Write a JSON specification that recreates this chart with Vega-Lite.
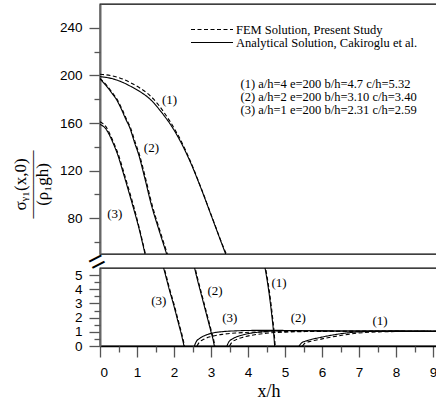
{
  "$schema": "https://vega.github.io/schema/vega-lite/v6.json",
  "padding": {"left": 10, "top": 3, "right": 0, "bottom": 0},
  "background": "white",
  "config": {
    "view": {"stroke": "black", "strokeWidth": 1.3},
    "font": "Liberation Serif",
    "axis": {"grid": false, "labelFont": "Liberation Sans", "labelFontSize": 13.5, "labelColor": "black", "labelOverlap": false, "domainColor": "#666", "domainWidth": 2, "tickColor": "#555", "tickWidth": 1.3, "titleFont": "Liberation Serif", "titleFontWeight": "normal", "titleColor": "black"}
  },
  "datasets": {
    "upper": [
      {"series":"1A","method":"Analytical Solution, Cakiroglu et al.","x":0,"y":199},{"series":"1A","method":"Analytical Solution, Cakiroglu et al.","x":0.3,"y":197.5},{"series":"1A","method":"Analytical Solution, Cakiroglu et al.","x":0.55,"y":195},{"series":"1A","method":"Analytical Solution, Cakiroglu et al.","x":0.85,"y":190.5},{"series":"1A","method":"Analytical Solution, Cakiroglu et al.","x":1.1,"y":186},{"series":"1A","method":"Analytical Solution, Cakiroglu et al.","x":1.3,"y":181.5},{"series":"1A","method":"Analytical Solution, Cakiroglu et al.","x":1.45,"y":177},{"series":"1A","method":"Analytical Solution, Cakiroglu et al.","x":1.6,"y":171.5},{"series":"1A","method":"Analytical Solution, Cakiroglu et al.","x":1.75,"y":165.5},{"series":"1A","method":"Analytical Solution, Cakiroglu et al.","x":1.9,"y":159},{"series":"1A","method":"Analytical Solution, Cakiroglu et al.","x":2.05,"y":151.5},{"series":"1A","method":"Analytical Solution, Cakiroglu et al.","x":2.2,"y":143},{"series":"1A","method":"Analytical Solution, Cakiroglu et al.","x":2.35,"y":133.5},{"series":"1A","method":"Analytical Solution, Cakiroglu et al.","x":2.5,"y":123},{"series":"1A","method":"Analytical Solution, Cakiroglu et al.","x":2.65,"y":111.5},{"series":"1A","method":"Analytical Solution, Cakiroglu et al.","x":2.8,"y":99.5},{"series":"1A","method":"Analytical Solution, Cakiroglu et al.","x":2.95,"y":87},{"series":"1A","method":"Analytical Solution, Cakiroglu et al.","x":3.1,"y":74.5},{"series":"1A","method":"Analytical Solution, Cakiroglu et al.","x":3.25,"y":62},{"series":"1A","method":"Analytical Solution, Cakiroglu et al.","x":3.42,"y":48},
      {"series":"1F","method":"FEM Solution, Present Study","x":0,"y":201},{"series":"1F","method":"FEM Solution, Present Study","x":0.3,"y":199.8},{"series":"1F","method":"FEM Solution, Present Study","x":0.55,"y":197.7},{"series":"1F","method":"FEM Solution, Present Study","x":0.85,"y":193.5},{"series":"1F","method":"FEM Solution, Present Study","x":1.1,"y":189},{"series":"1F","method":"FEM Solution, Present Study","x":1.3,"y":184.5},{"series":"1F","method":"FEM Solution, Present Study","x":1.45,"y":180},{"series":"1F","method":"FEM Solution, Present Study","x":1.6,"y":174.5},{"series":"1F","method":"FEM Solution, Present Study","x":1.75,"y":168},{"series":"1F","method":"FEM Solution, Present Study","x":1.9,"y":161},{"series":"1F","method":"FEM Solution, Present Study","x":2.05,"y":153},{"series":"1F","method":"FEM Solution, Present Study","x":2.2,"y":144.5},{"series":"1F","method":"FEM Solution, Present Study","x":2.35,"y":134.5},{"series":"1F","method":"FEM Solution, Present Study","x":2.5,"y":123.8},{"series":"1F","method":"FEM Solution, Present Study","x":2.65,"y":112},{"series":"1F","method":"FEM Solution, Present Study","x":2.8,"y":100},{"series":"1F","method":"FEM Solution, Present Study","x":2.95,"y":87.5},{"series":"1F","method":"FEM Solution, Present Study","x":3.1,"y":75},{"series":"1F","method":"FEM Solution, Present Study","x":3.25,"y":62.5},{"series":"1F","method":"FEM Solution, Present Study","x":3.44,"y":48},
      {"series":"2A","method":"Analytical Solution, Cakiroglu et al.","x":0,"y":197},{"series":"2A","method":"Analytical Solution, Cakiroglu et al.","x":0.15,"y":192},{"series":"2A","method":"Analytical Solution, Cakiroglu et al.","x":0.31,"y":185.6},{"series":"2A","method":"Analytical Solution, Cakiroglu et al.","x":0.45,"y":179.5},{"series":"2A","method":"Analytical Solution, Cakiroglu et al.","x":0.58,"y":171.5},{"series":"2A","method":"Analytical Solution, Cakiroglu et al.","x":0.7,"y":163},{"series":"2A","method":"Analytical Solution, Cakiroglu et al.","x":0.8,"y":156.5},{"series":"2A","method":"Analytical Solution, Cakiroglu et al.","x":0.94,"y":143},{"series":"2A","method":"Analytical Solution, Cakiroglu et al.","x":1.04,"y":134},{"series":"2A","method":"Analytical Solution, Cakiroglu et al.","x":1.2,"y":115},{"series":"2A","method":"Analytical Solution, Cakiroglu et al.","x":1.39,"y":91},{"series":"2A","method":"Analytical Solution, Cakiroglu et al.","x":1.6,"y":69.5},{"series":"2A","method":"Analytical Solution, Cakiroglu et al.","x":1.8,"y":50},{"series":"2A","method":"Analytical Solution, Cakiroglu et al.","x":1.83,"y":47},
      {"series":"2F","method":"FEM Solution, Present Study","x":0,"y":197.5},{"series":"2F","method":"FEM Solution, Present Study","x":0.17,"y":192},{"series":"2F","method":"FEM Solution, Present Study","x":0.33,"y":185.6},{"series":"2F","method":"FEM Solution, Present Study","x":0.47,"y":179.5},{"series":"2F","method":"FEM Solution, Present Study","x":0.6,"y":171.5},{"series":"2F","method":"FEM Solution, Present Study","x":0.72,"y":163},{"series":"2F","method":"FEM Solution, Present Study","x":0.82,"y":156.5},{"series":"2F","method":"FEM Solution, Present Study","x":0.96,"y":143},{"series":"2F","method":"FEM Solution, Present Study","x":1.06,"y":134},{"series":"2F","method":"FEM Solution, Present Study","x":1.22,"y":115},{"series":"2F","method":"FEM Solution, Present Study","x":1.41,"y":91},{"series":"2F","method":"FEM Solution, Present Study","x":1.62,"y":69.5},{"series":"2F","method":"FEM Solution, Present Study","x":1.82,"y":50},{"series":"2F","method":"FEM Solution, Present Study","x":1.85,"y":47},
      {"series":"3A","method":"Analytical Solution, Cakiroglu et al.","x":0,"y":159},{"series":"3A","method":"Analytical Solution, Cakiroglu et al.","x":0.08,"y":157.5},{"series":"3A","method":"Analytical Solution, Cakiroglu et al.","x":0.16,"y":155},{"series":"3A","method":"Analytical Solution, Cakiroglu et al.","x":0.22,"y":152},{"series":"3A","method":"Analytical Solution, Cakiroglu et al.","x":0.35,"y":143.5},{"series":"3A","method":"Analytical Solution, Cakiroglu et al.","x":0.49,"y":132.3},{"series":"3A","method":"Analytical Solution, Cakiroglu et al.","x":0.62,"y":119},{"series":"3A","method":"Analytical Solution, Cakiroglu et al.","x":0.76,"y":104.2},{"series":"3A","method":"Analytical Solution, Cakiroglu et al.","x":0.9,"y":89},{"series":"3A","method":"Analytical Solution, Cakiroglu et al.","x":1.05,"y":72},{"series":"3A","method":"Analytical Solution, Cakiroglu et al.","x":1.21,"y":51},{"series":"3A","method":"Analytical Solution, Cakiroglu et al.","x":1.24,"y":47},
      {"series":"3F","method":"FEM Solution, Present Study","x":0,"y":161},{"series":"3F","method":"FEM Solution, Present Study","x":0.08,"y":159.5},{"series":"3F","method":"FEM Solution, Present Study","x":0.16,"y":157},{"series":"3F","method":"FEM Solution, Present Study","x":0.24,"y":152.5},{"series":"3F","method":"FEM Solution, Present Study","x":0.37,"y":143.5},{"series":"3F","method":"FEM Solution, Present Study","x":0.51,"y":132.3},{"series":"3F","method":"FEM Solution, Present Study","x":0.64,"y":119},{"series":"3F","method":"FEM Solution, Present Study","x":0.78,"y":104.2},{"series":"3F","method":"FEM Solution, Present Study","x":0.92,"y":89},{"series":"3F","method":"FEM Solution, Present Study","x":1.06,"y":72},{"series":"3F","method":"FEM Solution, Present Study","x":1.22,"y":51},{"series":"3F","method":"FEM Solution, Present Study","x":1.25,"y":47}
    ],
    "lower": [
      {"series":"1Ad","method":"Analytical Solution, Cakiroglu et al.","x":4.44,"y":5.8},{"series":"1Ad","method":"Analytical Solution, Cakiroglu et al.","x":4.5,"y":4.9},{"series":"1Ad","method":"Analytical Solution, Cakiroglu et al.","x":4.56,"y":3.9},{"series":"1Ad","method":"Analytical Solution, Cakiroglu et al.","x":4.61,"y":2.9},{"series":"1Ad","method":"Analytical Solution, Cakiroglu et al.","x":4.65,"y":2.0},{"series":"1Ad","method":"Analytical Solution, Cakiroglu et al.","x":4.69,"y":1.0},{"series":"1Ad","method":"Analytical Solution, Cakiroglu et al.","x":4.72,"y":0},
      {"series":"1Fd","method":"FEM Solution, Present Study","x":4.455,"y":5.8},{"series":"1Fd","method":"FEM Solution, Present Study","x":4.515,"y":4.9},{"series":"1Fd","method":"FEM Solution, Present Study","x":4.575,"y":3.9},{"series":"1Fd","method":"FEM Solution, Present Study","x":4.625,"y":2.9},{"series":"1Fd","method":"FEM Solution, Present Study","x":4.665,"y":2.0},{"series":"1Fd","method":"FEM Solution, Present Study","x":4.705,"y":1.0},{"series":"1Fd","method":"FEM Solution, Present Study","x":4.735,"y":0},
      {"series":"2Ad","method":"Analytical Solution, Cakiroglu et al.","x":2.53,"y":5.8},{"series":"2Ad","method":"Analytical Solution, Cakiroglu et al.","x":2.62,"y":4.8},{"series":"2Ad","method":"Analytical Solution, Cakiroglu et al.","x":2.72,"y":3.8},{"series":"2Ad","method":"Analytical Solution, Cakiroglu et al.","x":2.82,"y":2.8},{"series":"2Ad","method":"Analytical Solution, Cakiroglu et al.","x":2.92,"y":1.8},{"series":"2Ad","method":"Analytical Solution, Cakiroglu et al.","x":3.0,"y":1.0},{"series":"2Ad","method":"Analytical Solution, Cakiroglu et al.","x":3.06,"y":0.4},{"series":"2Ad","method":"Analytical Solution, Cakiroglu et al.","x":3.09,"y":0},
      {"series":"2Fd","method":"FEM Solution, Present Study","x":2.545,"y":5.8},{"series":"2Fd","method":"FEM Solution, Present Study","x":2.635,"y":4.8},{"series":"2Fd","method":"FEM Solution, Present Study","x":2.735,"y":3.8},{"series":"2Fd","method":"FEM Solution, Present Study","x":2.835,"y":2.8},{"series":"2Fd","method":"FEM Solution, Present Study","x":2.935,"y":1.8},{"series":"2Fd","method":"FEM Solution, Present Study","x":3.015,"y":1.0},{"series":"2Fd","method":"FEM Solution, Present Study","x":3.075,"y":0.4},{"series":"2Fd","method":"FEM Solution, Present Study","x":3.105,"y":0},
      {"series":"3Ad","method":"Analytical Solution, Cakiroglu et al.","x":1.69,"y":5.8},{"series":"3Ad","method":"Analytical Solution, Cakiroglu et al.","x":1.78,"y":4.9},{"series":"3Ad","method":"Analytical Solution, Cakiroglu et al.","x":1.88,"y":3.9},{"series":"3Ad","method":"Analytical Solution, Cakiroglu et al.","x":1.98,"y":3.0},{"series":"3Ad","method":"Analytical Solution, Cakiroglu et al.","x":2.06,"y":2.2},{"series":"3Ad","method":"Analytical Solution, Cakiroglu et al.","x":2.14,"y":1.4},{"series":"3Ad","method":"Analytical Solution, Cakiroglu et al.","x":2.21,"y":0.7},{"series":"3Ad","method":"Analytical Solution, Cakiroglu et al.","x":2.27,"y":0},
      {"series":"3Fd","method":"FEM Solution, Present Study","x":1.705,"y":5.8},{"series":"3Fd","method":"FEM Solution, Present Study","x":1.795,"y":4.9},{"series":"3Fd","method":"FEM Solution, Present Study","x":1.895,"y":3.9},{"series":"3Fd","method":"FEM Solution, Present Study","x":1.995,"y":3.0},{"series":"3Fd","method":"FEM Solution, Present Study","x":2.075,"y":2.2},{"series":"3Fd","method":"FEM Solution, Present Study","x":2.155,"y":1.4},{"series":"3Fd","method":"FEM Solution, Present Study","x":2.225,"y":0.7},{"series":"3Fd","method":"FEM Solution, Present Study","x":2.285,"y":0},
      {"series":"3Ar","method":"Analytical Solution, Cakiroglu et al.","x":2.55,"y":0},{"series":"3Ar","method":"Analytical Solution, Cakiroglu et al.","x":2.6,"y":0.3},{"series":"3Ar","method":"Analytical Solution, Cakiroglu et al.","x":2.7,"y":0.55},{"series":"3Ar","method":"Analytical Solution, Cakiroglu et al.","x":2.85,"y":0.76},{"series":"3Ar","method":"Analytical Solution, Cakiroglu et al.","x":3.05,"y":0.92},{"series":"3Ar","method":"Analytical Solution, Cakiroglu et al.","x":3.3,"y":1.01},{"series":"3Ar","method":"Analytical Solution, Cakiroglu et al.","x":3.7,"y":1.07},{"series":"3Ar","method":"Analytical Solution, Cakiroglu et al.","x":4.2,"y":1.1},{"series":"3Ar","method":"Analytical Solution, Cakiroglu et al.","x":4.8,"y":1.1},{"series":"3Ar","method":"Analytical Solution, Cakiroglu et al.","x":5.5,"y":1.08},{"series":"3Ar","method":"Analytical Solution, Cakiroglu et al.","x":6.5,"y":1.06},{"series":"3Ar","method":"Analytical Solution, Cakiroglu et al.","x":7.5,"y":1.05},{"series":"3Ar","method":"Analytical Solution, Cakiroglu et al.","x":9.2,"y":1.04},
      {"series":"3Fr","method":"FEM Solution, Present Study","x":2.62,"y":0},{"series":"3Fr","method":"FEM Solution, Present Study","x":2.68,"y":0.25},{"series":"3Fr","method":"FEM Solution, Present Study","x":2.8,"y":0.47},{"series":"3Fr","method":"FEM Solution, Present Study","x":3.0,"y":0.67},{"series":"3Fr","method":"FEM Solution, Present Study","x":3.3,"y":0.82},{"series":"3Fr","method":"FEM Solution, Present Study","x":3.7,"y":0.92},{"series":"3Fr","method":"FEM Solution, Present Study","x":4.2,"y":0.98},{"series":"3Fr","method":"FEM Solution, Present Study","x":4.8,"y":1.01},{"series":"3Fr","method":"FEM Solution, Present Study","x":5.5,"y":1.03},{"series":"3Fr","method":"FEM Solution, Present Study","x":6.5,"y":1.04},{"series":"3Fr","method":"FEM Solution, Present Study","x":7.5,"y":1.04},{"series":"3Fr","method":"FEM Solution, Present Study","x":9.2,"y":1.04},
      {"series":"2Ar","method":"Analytical Solution, Cakiroglu et al.","x":3.43,"y":0},{"series":"2Ar","method":"Analytical Solution, Cakiroglu et al.","x":3.48,"y":0.28},{"series":"2Ar","method":"Analytical Solution, Cakiroglu et al.","x":3.58,"y":0.5},{"series":"2Ar","method":"Analytical Solution, Cakiroglu et al.","x":3.75,"y":0.7},{"series":"2Ar","method":"Analytical Solution, Cakiroglu et al.","x":4.0,"y":0.87},{"series":"2Ar","method":"Analytical Solution, Cakiroglu et al.","x":4.3,"y":0.98},{"series":"2Ar","method":"Analytical Solution, Cakiroglu et al.","x":4.7,"y":1.06},{"series":"2Ar","method":"Analytical Solution, Cakiroglu et al.","x":5.3,"y":1.08},{"series":"2Ar","method":"Analytical Solution, Cakiroglu et al.","x":6.2,"y":1.06},{"series":"2Ar","method":"Analytical Solution, Cakiroglu et al.","x":7.5,"y":1.05},{"series":"2Ar","method":"Analytical Solution, Cakiroglu et al.","x":9.2,"y":1.04},
      {"series":"2Fr","method":"FEM Solution, Present Study","x":3.5,"y":0},{"series":"2Fr","method":"FEM Solution, Present Study","x":3.56,"y":0.25},{"series":"2Fr","method":"FEM Solution, Present Study","x":3.68,"y":0.45},{"series":"2Fr","method":"FEM Solution, Present Study","x":3.88,"y":0.63},{"series":"2Fr","method":"FEM Solution, Present Study","x":4.15,"y":0.78},{"series":"2Fr","method":"FEM Solution, Present Study","x":4.5,"y":0.9},{"series":"2Fr","method":"FEM Solution, Present Study","x":5.0,"y":0.98},{"series":"2Fr","method":"FEM Solution, Present Study","x":5.6,"y":1.02},{"series":"2Fr","method":"FEM Solution, Present Study","x":6.5,"y":1.04},{"series":"2Fr","method":"FEM Solution, Present Study","x":7.5,"y":1.04},{"series":"2Fr","method":"FEM Solution, Present Study","x":9.2,"y":1.04},
      {"series":"1Ar","method":"Analytical Solution, Cakiroglu et al.","x":5.38,"y":0},{"series":"1Ar","method":"Analytical Solution, Cakiroglu et al.","x":5.45,"y":0.22},{"series":"1Ar","method":"Analytical Solution, Cakiroglu et al.","x":5.6,"y":0.38},{"series":"1Ar","method":"Analytical Solution, Cakiroglu et al.","x":5.95,"y":0.6},{"series":"1Ar","method":"Analytical Solution, Cakiroglu et al.","x":6.3,"y":0.78},{"series":"1Ar","method":"Analytical Solution, Cakiroglu et al.","x":6.67,"y":0.92},{"series":"1Ar","method":"Analytical Solution, Cakiroglu et al.","x":7.1,"y":1.01},{"series":"1Ar","method":"Analytical Solution, Cakiroglu et al.","x":7.6,"y":1.04},{"series":"1Ar","method":"Analytical Solution, Cakiroglu et al.","x":8.3,"y":1.05},{"series":"1Ar","method":"Analytical Solution, Cakiroglu et al.","x":9.2,"y":1.04},
      {"series":"1Fr","method":"FEM Solution, Present Study","x":5.47,"y":0},{"series":"1Fr","method":"FEM Solution, Present Study","x":5.53,"y":0.18},{"series":"1Fr","method":"FEM Solution, Present Study","x":5.7,"y":0.34},{"series":"1Fr","method":"FEM Solution, Present Study","x":6.0,"y":0.5},{"series":"1Fr","method":"FEM Solution, Present Study","x":6.3,"y":0.65},{"series":"1Fr","method":"FEM Solution, Present Study","x":6.7,"y":0.82},{"series":"1Fr","method":"FEM Solution, Present Study","x":7.1,"y":0.94},{"series":"1Fr","method":"FEM Solution, Present Study","x":7.6,"y":1.0},{"series":"1Fr","method":"FEM Solution, Present Study","x":8.3,"y":1.03},{"series":"1Fr","method":"FEM Solution, Present Study","x":9.2,"y":1.04}
    ],
    "upperLabels": [
      {"x":1.88,"y":179,"t":"(1)"},{"x":1.39,"y":139.4,"t":"(2)"},{"x":0.4,"y":83.5,"t":"(3)"}
    ],
    "lowerLabels": [
      {"x":1.59,"y":3.15,"t":"(3)"},{"x":3.11,"y":3.9,"t":"(2)"},{"x":3.51,"y":1.98,"t":"(3)"},{"x":4.84,"y":4.44,"t":"(1)"},{"x":5.36,"y":1.98,"t":"(2)"},{"x":7.57,"y":1.76,"t":"(1)"}
    ],
    "info": [
      {"x":3.8,"y":189.7,"t":"(1) a/h=4 e=200 b/h=4.7 c/h=5.32"},
      {"x":3.8,"y":178.4,"t":"(2) a/h=2 e=200 b/h=3.10 c/h=3.40"},
      {"x":3.8,"y":167.5,"t":"(3) a/h=1 e=200 b/h=2.31 c/h=2.59"}
    ],
    "brk": [{"x":0,"y":5.5}]
  },
  "spacing": 14,
  "bounds": "flush",
  "resolve": {"scale": {"x": "independent", "y": "independent"}, "legend": {"strokeDash": "independent"}},
  "vconcat": [
    {
      "width": 337,
      "height": 250,
      "resolve": {"scale": {"y": "independent"}, "axis": {"y": "independent"}},
      "layer": [
        {
          "data": {"name": "upper"},
          "mark": {"type": "line", "clip": true, "color": "black", "strokeWidth": 1.1, "interpolate": "monotone"},
          "encoding": {
            "x": {"field": "x", "type": "quantitative", "scale": {"domain": [0, 9.108], "nice": false, "zero": false}, "axis": null},
            "y": {"field": "y", "type": "quantitative", "scale": {"domain": [50, 260], "nice": false, "zero": false},
              "axis": {
                "orient": "left",
                "values": [80, 120, 160, 200, 240],
                "tickSize": 11,
                "labelPadding": 7,
                "title": ["σᵧ₁(x,0)", "————", "(ρ₁gh)"],
                "titleFontSize": 17,
                "titleLineHeight": 11,
                "titleX": -75,
                "titleY": 180,
                "titleAngle": 270,
                "titleAlign": "center",
                "titleBaseline": "alphabetic"
              }
            },
            "detail": {"field": "series", "type": "nominal"},
            "strokeDash": {
              "field": "method", "type": "nominal",
              "scale": {"domain": ["FEM Solution, Present Study", "Analytical Solution, Cakiroglu et al."], "range": [[4, 2.5], [1, 0]]},
              "legend": {"orient": "none", "legendX": 90, "legendY": 19, "title": null, "symbolType": "stroke", "symbolSize": 1764, "symbolStrokeWidth": 1.2, "symbolStrokeColor": "black", "labelFont": "Liberation Serif", "labelFontSize": 12.5, "labelColor": "black", "labelOffset": 2, "labelLimit": 400, "padding": 0, "rowPadding": 0, "clipHeight": 13}
            }
          }
        },
        {
          "data": {"name": "upperLabels"},
          "mark": {"type": "text", "font": "Liberation Serif", "fontSize": 13, "fill": "black", "align": "center", "baseline": "middle"},
          "encoding": {
            "x": {"field": "x", "type": "quantitative"},
            "y": {"field": "y", "type": "quantitative", "scale": {"domain": [50, 260], "nice": false, "zero": false},
              "axis": {"orient": "left", "values": [60, 100, 140, 180, 220], "tickSize": 6, "labels": false, "domain": false, "title": null}
            },
            "text": {"field": "t"}
          }
        },
        {
          "data": {"name": "info"},
          "mark": {"type": "text", "font": "Liberation Serif", "fontSize": 12.5, "fill": "black", "align": "left", "baseline": "alphabetic"},
          "encoding": {
            "x": {"field": "x", "type": "quantitative"},
            "y": {"field": "y", "type": "quantitative", "scale": {"domain": [50, 260], "nice": false, "zero": false}, "axis": null},
            "text": {"field": "t"}
          }
        }
      ]
    },
    {
      "width": 337,
      "height": 78,
      "resolve": {"scale": {"x": "independent", "y": "independent"}, "axis": {"x": "independent", "y": "independent"}},
      "layer": [
        {
          "data": {"name": "lower"},
          "mark": {"type": "line", "clip": true, "color": "black", "strokeWidth": 1.1, "interpolate": "monotone"},
          "encoding": {
            "x": {"field": "x", "type": "quantitative", "scale": {"domain": [0, 9.108], "nice": false, "zero": false},
              "axis": {
                "orient": "bottom",
                "values": [0, 1, 2, 3, 4, 5, 6, 7, 8, 9],
                "tickSize": 11,
                "labelPadding": 8,
                "domainColor": "black",
                "domainWidth": 1.3,
                "title": "x/h",
                "titleFontSize": 18,
                "titlePadding": 4
              }
            },
            "y": {"field": "y", "type": "quantitative", "scale": {"domain": [0, 5.5], "nice": false, "zero": false},
              "axis": {
                "orient": "left",
                "values": [0, 1, 2, 3, 4, 5],
                "tickSize": 11,
                "labelPadding": 7,
                "title": null
              }
            },
            "detail": {"field": "series", "type": "nominal"},
            "strokeDash": {
              "field": "method", "type": "nominal",
              "scale": {"domain": ["FEM Solution, Present Study", "Analytical Solution, Cakiroglu et al."], "range": [[4, 2.5], [1, 0]]},
              "legend": null
            }
          }
        },
        {
          "data": {"name": "lowerLabels"},
          "mark": {"type": "text", "font": "Liberation Serif", "fontSize": 13, "fill": "black", "align": "center", "baseline": "middle"},
          "encoding": {
            "x": {"field": "x", "type": "quantitative", "scale": {"domain": [0, 9.108], "nice": false, "zero": false},
              "axis": {"orient": "bottom", "values": [0.5, 1.5, 2.5, 3.5, 4.5, 5.5, 6.5, 7.5, 8.5], "tickSize": 6, "labels": false, "domain": false, "title": null}
            },
            "y": {"field": "y", "type": "quantitative", "scale": {"domain": [0, 5.5], "nice": false, "zero": false},
              "axis": {"orient": "left", "values": [0.5, 1.5, 2.5, 3.5, 4.5], "tickSize": 6, "labels": false, "domain": false, "title": null}
            },
            "text": {"field": "t"}
          }
        },
        {
          "data": {"name": "brk"},
          "mark": {"type": "text", "font": "Liberation Sans", "fontSize": 28, "fill": "black", "align": "center", "baseline": "middle", "angle": -27, "dy": -6, "clip": false},
          "encoding": {
            "x": {"field": "x", "type": "quantitative", "scale": {"domain": [0, 9.108], "nice": false, "zero": false}, "axis": null},
            "y": {"field": "y", "type": "quantitative", "scale": {"domain": [0, 5.5], "nice": false, "zero": false}, "axis": null},
            "text": {"value": "="}
          }
        }
      ]
    }
  ]
}
